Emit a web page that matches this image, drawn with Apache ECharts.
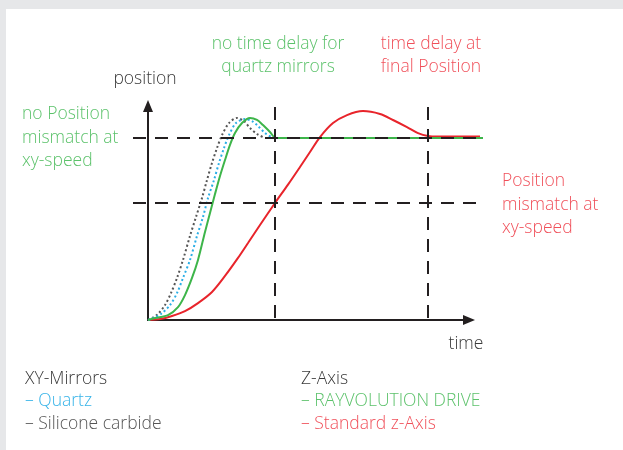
<!DOCTYPE html>
<html><head><meta charset="utf-8">
<script src="https://cdn.jsdelivr.net/npm/echarts@6/dist/echarts.min.js"></script>
<style>html,body{margin:0;padding:0;background:#e6e7e9}#c{width:623px;height:450px}</style>
</head><body><div id="c"></div><script>
// time (arbitrary units) and normalised position (1 = final position)
const greenT = [0, 7, 20, 30, 37, 44, 50, 57, 62, 67, 72, 77, 82, 87, 94, 102, 109, 115, 122, 128, 335];
const greenP = [0, 0.011, 0.027, 0.071, 0.137, 0.231, 0.330, 0.484, 0.588, 0.692, 0.791, 0.879, 0.962, 1.027, 1.082, 1.110, 1.099, 1.071, 1.033, 1.0, 1.0];
const blueT = [0, 5, 13, 22, 29, 35, 42, 49, 55, 60, 66, 71, 76, 81, 88, 97, 104, 110, 117, 125];
const blueP = [0, 0.011, 0.033, 0.082, 0.148, 0.231, 0.330, 0.462, 0.566, 0.670, 0.769, 0.863, 0.945, 1.016, 1.082, 1.104, 1.093, 1.066, 1.027, 1.0];
const grayT = [0, 4, 10, 17, 23, 29, 35, 42, 48, 54, 59, 64, 69, 74, 81, 89, 96, 102, 109, 117];
const grayP = [0, 0.011, 0.033, 0.082, 0.148, 0.231, 0.330, 0.462, 0.566, 0.670, 0.769, 0.863, 0.945, 1.016, 1.082, 1.110, 1.093, 1.055, 1.022, 1.0];
const redT = [0, 12, 24, 37, 50, 64, 77, 90, 100, 112, 127, 140, 152, 162, 172, 185, 199, 215, 232, 245, 259, 270, 280, 290, 332];
const redP = [0, 0.005, 0.022, 0.049, 0.093, 0.154, 0.242, 0.341, 0.423, 0.522, 0.643, 0.744, 0.841, 0.923, 1.005, 1.082, 1.126, 1.148, 1.132, 1.099, 1.060, 1.027, 1.011, 1.008, 1.008];
// reference levels and times
const refLevels = [1.0, 0.643];
const refTimes = [127, 280];
const refSpan = [-15, 335];
const refHeight = [1.17, -0.02];

const zip = (a, b) => a.map((v, i) => [v, b[i]]);
const FONT = '"Open Sans", "Noto Sans", sans-serif';
const GREEN = '#3db54a', RED = '#e8242b', BLUE = '#2aaee6', DGRAY = '#555555', INK = '#231f20';
const TGREEN = '#5cc26b', TRED = '#f0505a', TBLUE = '#36b3e8';

const chart = echarts.init(document.getElementById('c'), null, {renderer: 'canvas'});
const yMax = 214 / 182;
const curve = (name, t, p, color, type, z) => ({
  type: 'line', name, xAxisIndex: 1, yAxisIndex: 1, data: zip(t, p), smooth: 0.3,
  symbol: 'none', silent: true, z, lineStyle: {color, width: 2, type}
});
const series = [
  curve('Standard z-Axis', redT, redP, RED, 'solid', 2),
  curve('Silicone carbide', grayT, grayP, DGRAY, [2, 2.5], 3),
  curve('Quartz', blueT, blueP, BLUE, [2, 2.5], 4),
  curve('RAYVOLUTION DRIVE', greenT, greenP, GREEN, 'solid', 5)
];
refLevels.forEach(l => series.push({
  type: 'line', xAxisIndex: 1, yAxisIndex: 1, data: [[refSpan[0], l], [refSpan[1], l]],
  symbol: 'none', silent: true, z: 6, lineStyle: {color: INK, width: 2, type: [13, 9]}
}));
refTimes.forEach(t => series.push({
  type: 'line', xAxisIndex: 1, yAxisIndex: 1, data: [[t, refHeight[0]], [t, refHeight[1]]],
  symbol: 'none', silent: true, z: 6, lineStyle: {color: INK, width: 2, type: [13, 9]}
}));

const txt = (text, x, y, color, align) => ({
  type: 'text', x, y, z: 10,
  style: {text, fill: color, font: '300 17.5px ' + FONT, textAlign: align || 'left', textVerticalAlign: 'middle'}
});

const hidden = {show: false};
chart.setOption({
  animation: false,
  backgroundColor: '#e6e7e9',
  grid: [
    {left: 148, right: 154, top: 106, bottom: 130},
    {left: 133, right: 140, top: 106, bottom: 130}
  ],
  xAxis: [
    {type: 'value', gridIndex: 0, min: 0, max: 321, axisLine: {show: true, symbol: ['none', 'triangle'], symbolSize: [10, 12], lineStyle: {color: INK, width: 2}}, axisTick: hidden, axisLabel: hidden, splitLine: hidden},
    {type: 'value', gridIndex: 1, min: -15, max: 335, show: false}
  ],
  yAxis: [
    {type: 'value', gridIndex: 0, min: 0, max: yMax, axisLine: {show: true, symbol: ['none', 'triangle'], symbolSize: [10, 12], lineStyle: {color: INK, width: 2}}, axisTick: hidden, axisLabel: hidden, splitLine: hidden},
    {type: 'value', gridIndex: 1, min: 0, max: yMax, show: false}
  ],
  graphic: [
    {type: 'rect', x: 6, y: 9, z: -10, shape: {width: 617, height: 441}, style: {fill: '#ffffff'}, silent: true},
    txt('position', 145, 79, '#3a3a3a', 'center'),
    txt('time', 466, 344, '#3a3a3a', 'center'),
    txt('no time delay for', 278, 44, TGREEN, 'center'),
    txt('quartz mirrors', 278, 67, TGREEN, 'center'),
    txt('time delay at', 431, 44, TRED, 'center'),
    txt('final Position', 431, 67, TRED, 'center'),
    txt('no Position', 22, 114, TGREEN),
    txt('mismatch at', 22, 138, TGREEN),
    txt('xy-speed', 22, 161, TGREEN),
    txt('Position', 502, 181, TRED),
    txt('mismatch at', 502, 205, TRED),
    txt('xy-speed', 502, 228, TRED),
    txt('XY-Mirrors', 25, 379, '#3a3a3a'),
    txt('\u2013 Quartz', 25, 401, TBLUE),
    txt('\u2013 Silicone carbide', 25, 424, '#555555'),
    txt('Z-Axis', 301, 379, '#3a3a3a'),
    txt('\u2013 RAYVOLUTION DRIVE', 301, 401, TGREEN),
    txt('\u2013 Standard z-Axis', 301, 424, TRED)
  ],
  series
});
</script></body></html>
